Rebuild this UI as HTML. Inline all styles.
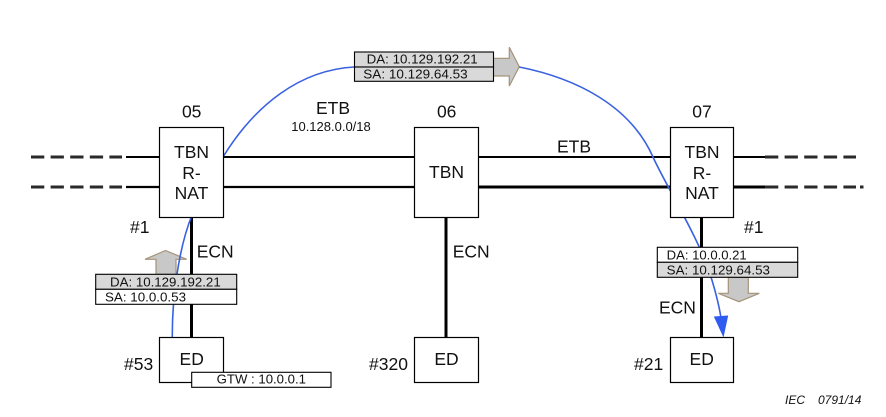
<!DOCTYPE html>
<html><head><meta charset="utf-8"><style>
html,body{margin:0;padding:0;background:#fff;}
svg{display:block;}
text{font-family:"Liberation Sans",Arial,sans-serif;fill:#111;}
.big{font-size:17.5px;}
.sm{font-size:13px;}
</style></head><body>
<svg width="886" height="417" viewBox="0 0 886 417" xmlns="http://www.w3.org/2000/svg">
<rect width="886" height="417" fill="#fff"/>
<!-- ETB lines -->
<g stroke="#000" fill="none">
<line x1="126" y1="157" x2="160" y2="157" stroke-width="2"/>
<line x1="223" y1="157" x2="415" y2="157" stroke-width="2"/>
<line x1="478" y1="157" x2="671" y2="157" stroke-width="2"/>
<line x1="733" y1="157" x2="765" y2="157" stroke-width="2"/>
<line x1="126" y1="187" x2="160" y2="187" stroke-width="2.2"/>
<line x1="223" y1="187" x2="415" y2="187" stroke-width="2.2"/>
<line x1="478" y1="187" x2="671" y2="187" stroke-width="3"/>
<line x1="733" y1="187" x2="765" y2="187" stroke-width="3"/>
</g>
<g stroke="#2a2a2a" stroke-width="3" stroke-dasharray="13.3 6.3" fill="none">
<line x1="31" y1="157" x2="122" y2="157"/>
<line x1="31" y1="187" x2="122" y2="187"/>
<line x1="765" y1="157" x2="856" y2="157"/>
<line x1="765" y1="187" x2="856" y2="187"/>
</g>
<line x1="860" y1="187" x2="863.5" y2="187" stroke="#2a2a2a" stroke-width="3"/>
<!-- ECN lines -->
<g stroke="#000" stroke-width="3">
<line x1="191.5" y1="217" x2="191.5" y2="338"/>
<line x1="446" y1="217" x2="446" y2="338"/>
<line x1="701.5" y1="217" x2="701.5" y2="338"/>
</g>
<!-- gray arrows -->
<g fill="#c8c8c8" stroke="#a59478" stroke-width="1.2" stroke-linejoin="miter">
<polygon points="493,58.3 509.3,58.3 509.3,47.3 519.3,66.7 509.3,86 509.3,76 493,76"/>
<polygon points="156,274.3 156,259.3 145,259.3 165.5,250.5 186.7,259.3 176,259.3 176,274.3"/>
<polygon points="728.3,277.3 728.3,293.3 718.3,293.3 739,301.7 759.3,293.3 748.3,293.3 748.3,277.3"/>
</g>
<!-- blue curves -->
<g stroke="#3a62e0" stroke-width="1.6" fill="none">
<path d="M223,157 C255,105 300,70 354,67"/>
<path d="M519.3,67 C575,78 630,105 653,157 C664,182 700,240 711,277 C715,290 719,305 721,318"/>
<path d="M172.3,338 C172,300 178,250 192,215"/>
</g>
<polygon points="723.5,337.5 713.8,316.5 728.2,315.5" fill="#2f5cf0"/>
<!-- node boxes -->
<g fill="#fff" stroke="#000" stroke-width="1.2">
<rect x="159.5" y="127.5" width="64" height="90"/>
<rect x="414.5" y="127.5" width="64" height="90"/>
<rect x="670.5" y="127.5" width="63" height="90"/>
<rect x="159.5" y="337.5" width="64" height="45"/>
<rect x="414.5" y="337.5" width="64" height="45"/>
<rect x="670.5" y="337.5" width="63" height="45"/>
</g>
<!-- label boxes -->
<g stroke="#000" stroke-width="1.1">
<rect x="354.5" y="52" width="139" height="15" fill="#d9d9d9"/>
<rect x="354.5" y="67" width="139" height="14.3" fill="#d9d9d9"/>
<rect x="95.7" y="274.3" width="141" height="15" fill="#d9d9d9"/>
<rect x="95.7" y="289.3" width="141" height="15" fill="#fff"/>
<rect x="657.3" y="247.3" width="140.4" height="15" fill="#fff"/>
<rect x="657.3" y="262.3" width="140.4" height="15" fill="#d9d9d9"/>
<rect x="191.7" y="372.3" width="139.3" height="15" fill="#fff"/>
</g>
<!-- text -->
<g class="big" text-anchor="middle">
<text x="191.7" y="117.5">05</text>
<text x="446.7" y="117.5">06</text>
<text x="702" y="117.5">07</text>
<text x="333" y="114">ETB</text>
<text x="574" y="152.3">ETB</text>
<text x="191.5" y="158">TBN</text>
<text x="191.5" y="179">R-</text>
<text x="191.5" y="199">NAT</text>
<text x="446.5" y="178">TBN</text>
<text x="702" y="158">TBN</text>
<text x="702" y="179">R-</text>
<text x="702" y="199">NAT</text>
<text x="191.7" y="365">ED</text>
<text x="446.5" y="365">ED</text>
<text x="701.7" y="365">ED</text>
</g>
<g class="big">
<text x="130" y="233">#1</text>
<text x="744" y="233">#1</text>
<text x="196.7" y="257.3">ECN</text>
<text x="452.7" y="257.3">ECN</text>
<text x="659" y="313.3">ECN</text>
<text x="124" y="370">#53</text>
<text x="369" y="370">#320</text>
<text x="634" y="370">#21</text>
</g>
<g class="sm">
<text x="331" y="131" text-anchor="middle">10.128.0.0/18</text>
<text x="366.7" y="63.3" textLength="111" lengthAdjust="spacingAndGlyphs">DA: 10.129.192.21</text>
<text x="363.3" y="78.3" textLength="104.4" lengthAdjust="spacingAndGlyphs">SA: 10.129.64.53</text>
<text x="110" y="286.5" textLength="110.7" lengthAdjust="spacingAndGlyphs">DA: 10.129.192.21</text>
<text x="105" y="301.5" textLength="81" lengthAdjust="spacingAndGlyphs">SA: 10.0.0.53</text>
<text x="666.7" y="259.3" textLength="80" lengthAdjust="spacingAndGlyphs">DA: 10.0.0.21</text>
<text x="666.7" y="274.3" textLength="103.3" lengthAdjust="spacingAndGlyphs">SA: 10.129.64.53</text>
<text x="216.7" y="383.3" textLength="89.3" lengthAdjust="spacingAndGlyphs">GTW : 10.0.0.1</text>
</g>
<text x="785" y="404" style="font-size:12px;font-style:italic">IEC</text>
<text x="818" y="404" style="font-size:12px;font-style:italic">0791/14</text>
</svg>
</body></html>
